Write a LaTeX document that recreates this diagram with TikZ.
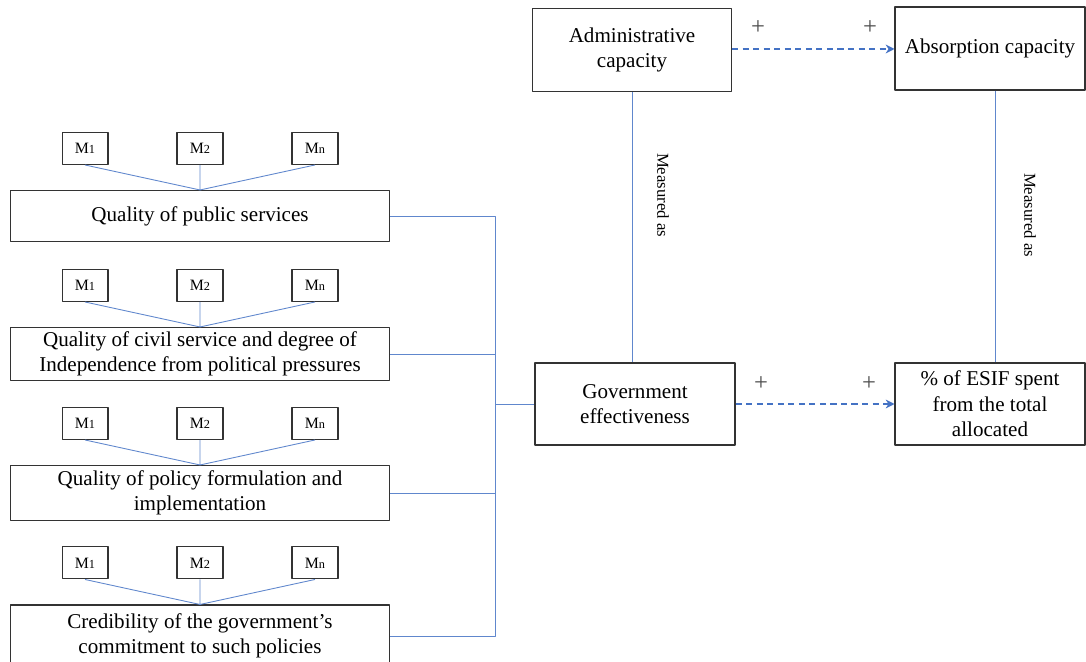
\documentclass[tikz,border=0pt]{standalone}
\usepackage{fontspec}
\setmainfont{Liberation Serif}
\usetikzlibrary{arrows.meta,positioning}
\definecolor{linkblue}{HTML}{4472C4}

\begin{document}
\begin{tikzpicture}[x=.02cm, y=-.02cm, every node/.style={font=\fontsize{12}{14.5}\selectfont}, line join=round]
  \tikzset{box/.style={draw=black!80, line width=.6pt, align=center, inner sep=0pt}, mbox/.style={box, minimum width=.92cm, minimum height=.64cm, font=\fontsize{9}{10}\selectfont}, link/.style={draw=linkblue!85, line width=.5pt}, effect/.style={draw=linkblue, line width=1.1pt, dash pattern=on 3.5pt off 2.5pt, -{Stealth[length=5pt, width=5pt]}}, sign/.style={text=black!70, font=\fontsize{14}{14}\selectfont}, measured/.style={rotate=-90, font=\fontsize{9.5}{11}\selectfont}}
  \useasboundingbox (0,0) rectangle (1086,662);

  % Left: the four indicators, each measured by M1, M2, ..., Mn above it.
  \foreach \i/\y/\h/\txt in {1/216/1.02/{Quality of public services}, 2/354/1.06/{Quality of civil service and degree of\\Independence from political pressures}, 3/493/1.1/{Quality of policy formulation and\\implementation}, 4/636/1.24/{Credibility of the government’s\\commitment to such policies}} {
    \node[box, minimum width=7.6cm, minimum height=\h cm] (q\i) at (200,\y) {\txt};
    \node[mbox, above=.5cm of q\i.north, xshift=-2.3cm] (m1-\i) {M{\scriptsize 1}};
    \node[mbox, above=.5cm of q\i.north] (m2-\i) {M{\scriptsize 2}};
    \node[mbox, above=.5cm of q\i.north, xshift=2.3cm] (mn-\i) {M{\scriptsize n}};
    \draw[link] (m1-\i.south) -- (q\i.north) (m2-\i.south) -- (q\i.north) (mn-\i.south) -- (q\i.north);
  }

  % Right: the two concepts (top) and how each is measured (bottom).
  \node[box, minimum width=3.98cm, minimum height=1.66cm] (admin) at (632,50) {Administrative\\capacity};
  \node[box, minimum width=3.8cm, minimum height=1.66cm] (absorb) at (990,48.5) {Absorption capacity};
  \node[box, minimum width=4cm, minimum height=1.64cm] (gov) at (635,404) {Government\\effectiveness};
  \node[box, minimum width=3.8cm, minimum height=1.64cm] (esif) at (990,404) {\% of ESIF spent\\from the total\\allocated};

  \draw[link] (admin.south) -- (admin.south |- gov.north);
  \draw[link] ([xshift=.1cm]absorb.south) -- ([xshift=.1cm]absorb.south |- esif.north);
  \node[measured] (meas1) at (663,195) {Measured as};
  \node[measured] (meas2) at (1030,215) {Measured as};

  % Positive effects between the concepts.
  \draw[effect] (admin.east |- 0,49) -- node[sign, pos=.16, yshift=.42cm] (plus1) {+} node[sign, pos=.85, yshift=.42cm] (plus2) {+} (absorb.west |- 0,49);
  \draw[effect] (gov.east) -- node[sign, pos=.16, yshift=.4cm] (plus3) {+} node[sign, pos=.84, yshift=.4cm] (plus4) {+} (esif.west);

  % Bus joining the indicators to government effectiveness.
  \coordinate (bus) at (495,404);
  \draw[link] (q1.east) -| (bus) -- (gov.west);
  \draw[link] (q4.east) -| (bus);
  \draw[link] (q2.east) -- (q2.east -| bus);
  \draw[link] (q3.east) -- (q3.east -| bus);
\end{tikzpicture}
\end{document}
